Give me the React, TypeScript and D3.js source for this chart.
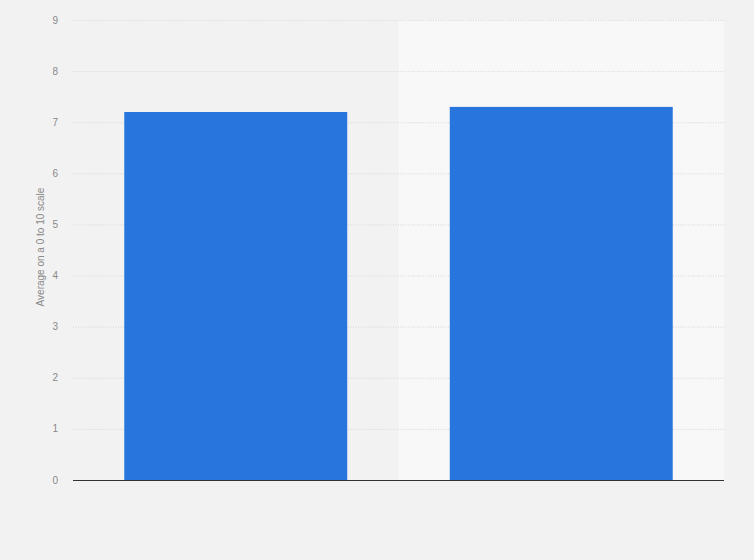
import * as d3 from 'd3';
import { useEffect, useRef } from 'react';

const categories = ['A', 'B'];
const values = [7.2, 7.3];
const yTicks = [0, 1, 2, 3, 4, 5, 6, 7, 8, 9];
const yLabel = 'Average on a 0 to 10 scale';

const width = 754;
const height = 560;
const margin = { top: 20, right: 30, bottom: 80, left: 73 };

const App = () => {
    const ref = useRef<SVGSVGElement | null>(null);

    useEffect(() => {
        document.body.style.margin = '0';

        const svg = d3.select(ref.current!);
        svg.selectAll('*').remove();

        const innerW = width - margin.left - margin.right;
        const innerH = height - margin.top - margin.bottom;

        svg.append('rect')
            .attr('width', width)
            .attr('height', height)
            .attr('fill', '#f2f2f2');

        const g = svg.append('g')
            .attr('transform', 'translate(' + margin.left + ',' + margin.top + ')');

        const xScale = d3.scaleBand<string>()
            .domain(categories)
            .range([0, innerW])
            .paddingInner(0.315)
            .paddingOuter(0.1575);

        const yScale = d3.scaleLinear()
            .domain([0, 9])
            .range([innerH, 0]);

        // alternating band backgrounds
        const step = innerW / categories.length;
        g.selectAll('.band')
            .data(categories)
            .enter()
            .append('rect')
            .attr('x', (d, i) => i * step)
            .attr('y', 0)
            .attr('width', step)
            .attr('height', innerH)
            .attr('fill', (d, i) => i % 2 === 0 ? '#f2f2f2' : '#f8f8f8');

        // grid
        g.selectAll('.grid')
            .data(yTicks.filter(t => t > 0))
            .enter()
            .append('line')
            .attr('x1', 0)
            .attr('x2', innerW)
            .attr('y1', d => yScale(d) + 0.5)
            .attr('y2', d => yScale(d) + 0.5)
            .attr('stroke', '#d6d6d6')
            .attr('stroke-width', 1)
            .attr('stroke-dasharray', '1,1.5');

        // y tick labels
        g.selectAll('.ytick')
            .data(yTicks)
            .enter()
            .append('text')
            .attr('x', -15)
            .attr('y', d => yScale(d))
            .attr('dy', '0.35em')
            .attr('text-anchor', 'end')
            .attr('font-family', 'Arial, "Liberation Sans", sans-serif')
            .attr('font-size', 10)
            .attr('fill', '#888888')
            .text(d => d);

        // bars
        g.selectAll('.bar')
            .data(values)
            .enter()
            .append('rect')
            .attr('x', (d, i) => xScale(categories[i])!)
            .attr('y', d => yScale(d))
            .attr('width', xScale.bandwidth())
            .attr('height', d => innerH - yScale(d))
            .attr('fill', '#2876dd');

        // baseline
        g.append('line')
            .attr('x1', 0)
            .attr('x2', innerW)
            .attr('y1', innerH + 0.5)
            .attr('y2', innerH + 0.5)
            .attr('stroke', '#333333')
            .attr('stroke-width', 1);

        // y axis title
        svg.append('text')
            .attr('transform', 'translate(44,' + (margin.top + innerH / 2 - 3) + ') rotate(-90)')
            .attr('text-anchor', 'middle')
            .attr('font-family', 'Arial, "Liberation Sans", sans-serif')
            .attr('font-size', 10)
            .attr('fill', '#888888')
            .text(yLabel);
    }, []);

    return <svg ref={ref} width={width} height={height} style={{ display: 'block' }} />;
};

export default App;
